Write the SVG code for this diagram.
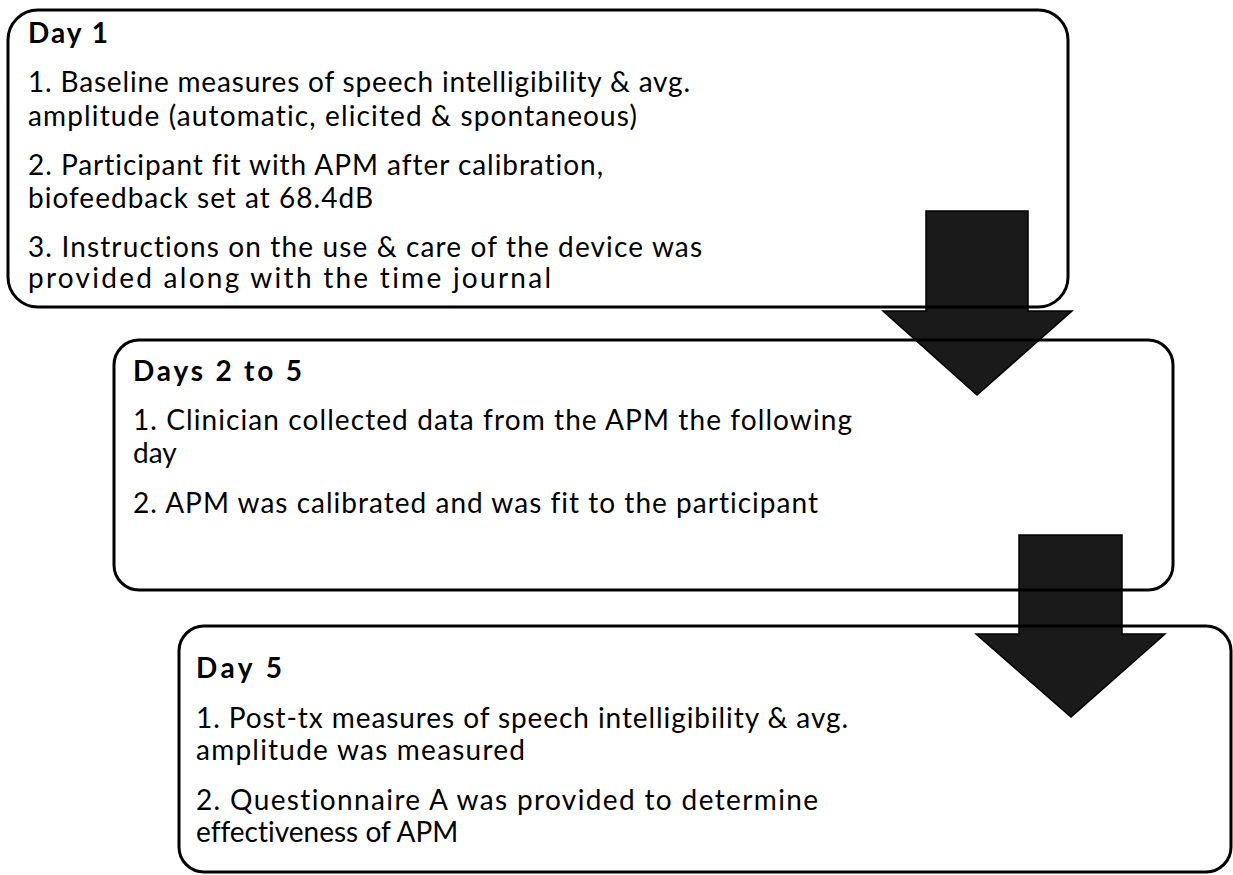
<svg xmlns="http://www.w3.org/2000/svg" width="1233" height="875" viewBox="0 0 1233 875">
<style>
.box{fill:none;stroke:#000;stroke-width:3}
.arrow{fill:#1a1a1a;stroke:#000;stroke-width:1.5}
.t{font-family:Lato,"Liberation Sans",Arial,sans-serif;font-size:28px;fill:#000;font-variant-ligatures:none}
.h{font-family:Lato,"Liberation Sans",Arial,sans-serif;font-size:28px;font-weight:bold;fill:#000}
</style>
<rect width="1233" height="875" fill="#fff"/>
<g id="connectors">
<path class="arrow" d="M926,211 H1028 V311 H1072 L977,395 L883,311 H926 Z"/>
<path class="arrow" d="M1019,535 H1122 V634 H1165 L1071,717 L976,634 H1019 Z"/>
</g>
<g id="day1">
<rect class="box" x="8" y="10" width="1060" height="297" rx="30"/>
<text class="h" x="28" y="43" textLength="80" lengthAdjust="spacing">Day 1</text>
<text class="t" x="28" y="92" textLength="662" lengthAdjust="spacing">1. Baseline measures of speech intelligibility &amp; avg.</text>
<text class="t" x="28" y="126" textLength="609" lengthAdjust="spacing">amplitude (automatic, elicited &amp; spontaneous)</text>
<text class="t" x="28" y="175" textLength="575" lengthAdjust="spacing">2. Participant fit with APM after calibration,</text>
<text class="t" x="28" y="208" textLength="345" lengthAdjust="spacing">biofeedback set at 68.4dB</text>
<text class="t" x="28" y="257" textLength="674" lengthAdjust="spacing">3. Instructions on the use &amp; care of the device was</text>
<text class="t" x="28" y="288" textLength="523" lengthAdjust="spacing">provided along with the time journal</text>
</g>
<g id="days2to5">
<rect class="box" x="114" y="340" width="1059" height="250" rx="25"/>
<text class="h" x="133" y="381" textLength="169" lengthAdjust="spacing">Days 2 to 5</text>
<text class="t" x="133" y="430" textLength="719" lengthAdjust="spacing">1. Clinician collected data from the APM the following</text>
<text class="t" x="133" y="463">day</text>
<text class="t" x="133" y="513" textLength="685" lengthAdjust="spacing">2. APM was calibrated and was fit to the participant</text>
</g>
<g id="day5">
<rect class="box" x="179" y="626" width="1052" height="246" rx="25"/>
<text class="h" x="196" y="678" textLength="86" lengthAdjust="spacing">Day 5</text>
<text class="t" x="196" y="728" textLength="652" lengthAdjust="spacing">1. Post-tx measures of speech intelligibility &amp; avg.</text>
<text class="t" x="196" y="760" textLength="329" lengthAdjust="spacing">amplitude was measured</text>
<text class="t" x="196" y="810" textLength="622" lengthAdjust="spacing">2. Questionnaire A was provided to determine</text>
<text class="t" x="196" y="842">effectiveness of APM</text>
</g>
</svg>
